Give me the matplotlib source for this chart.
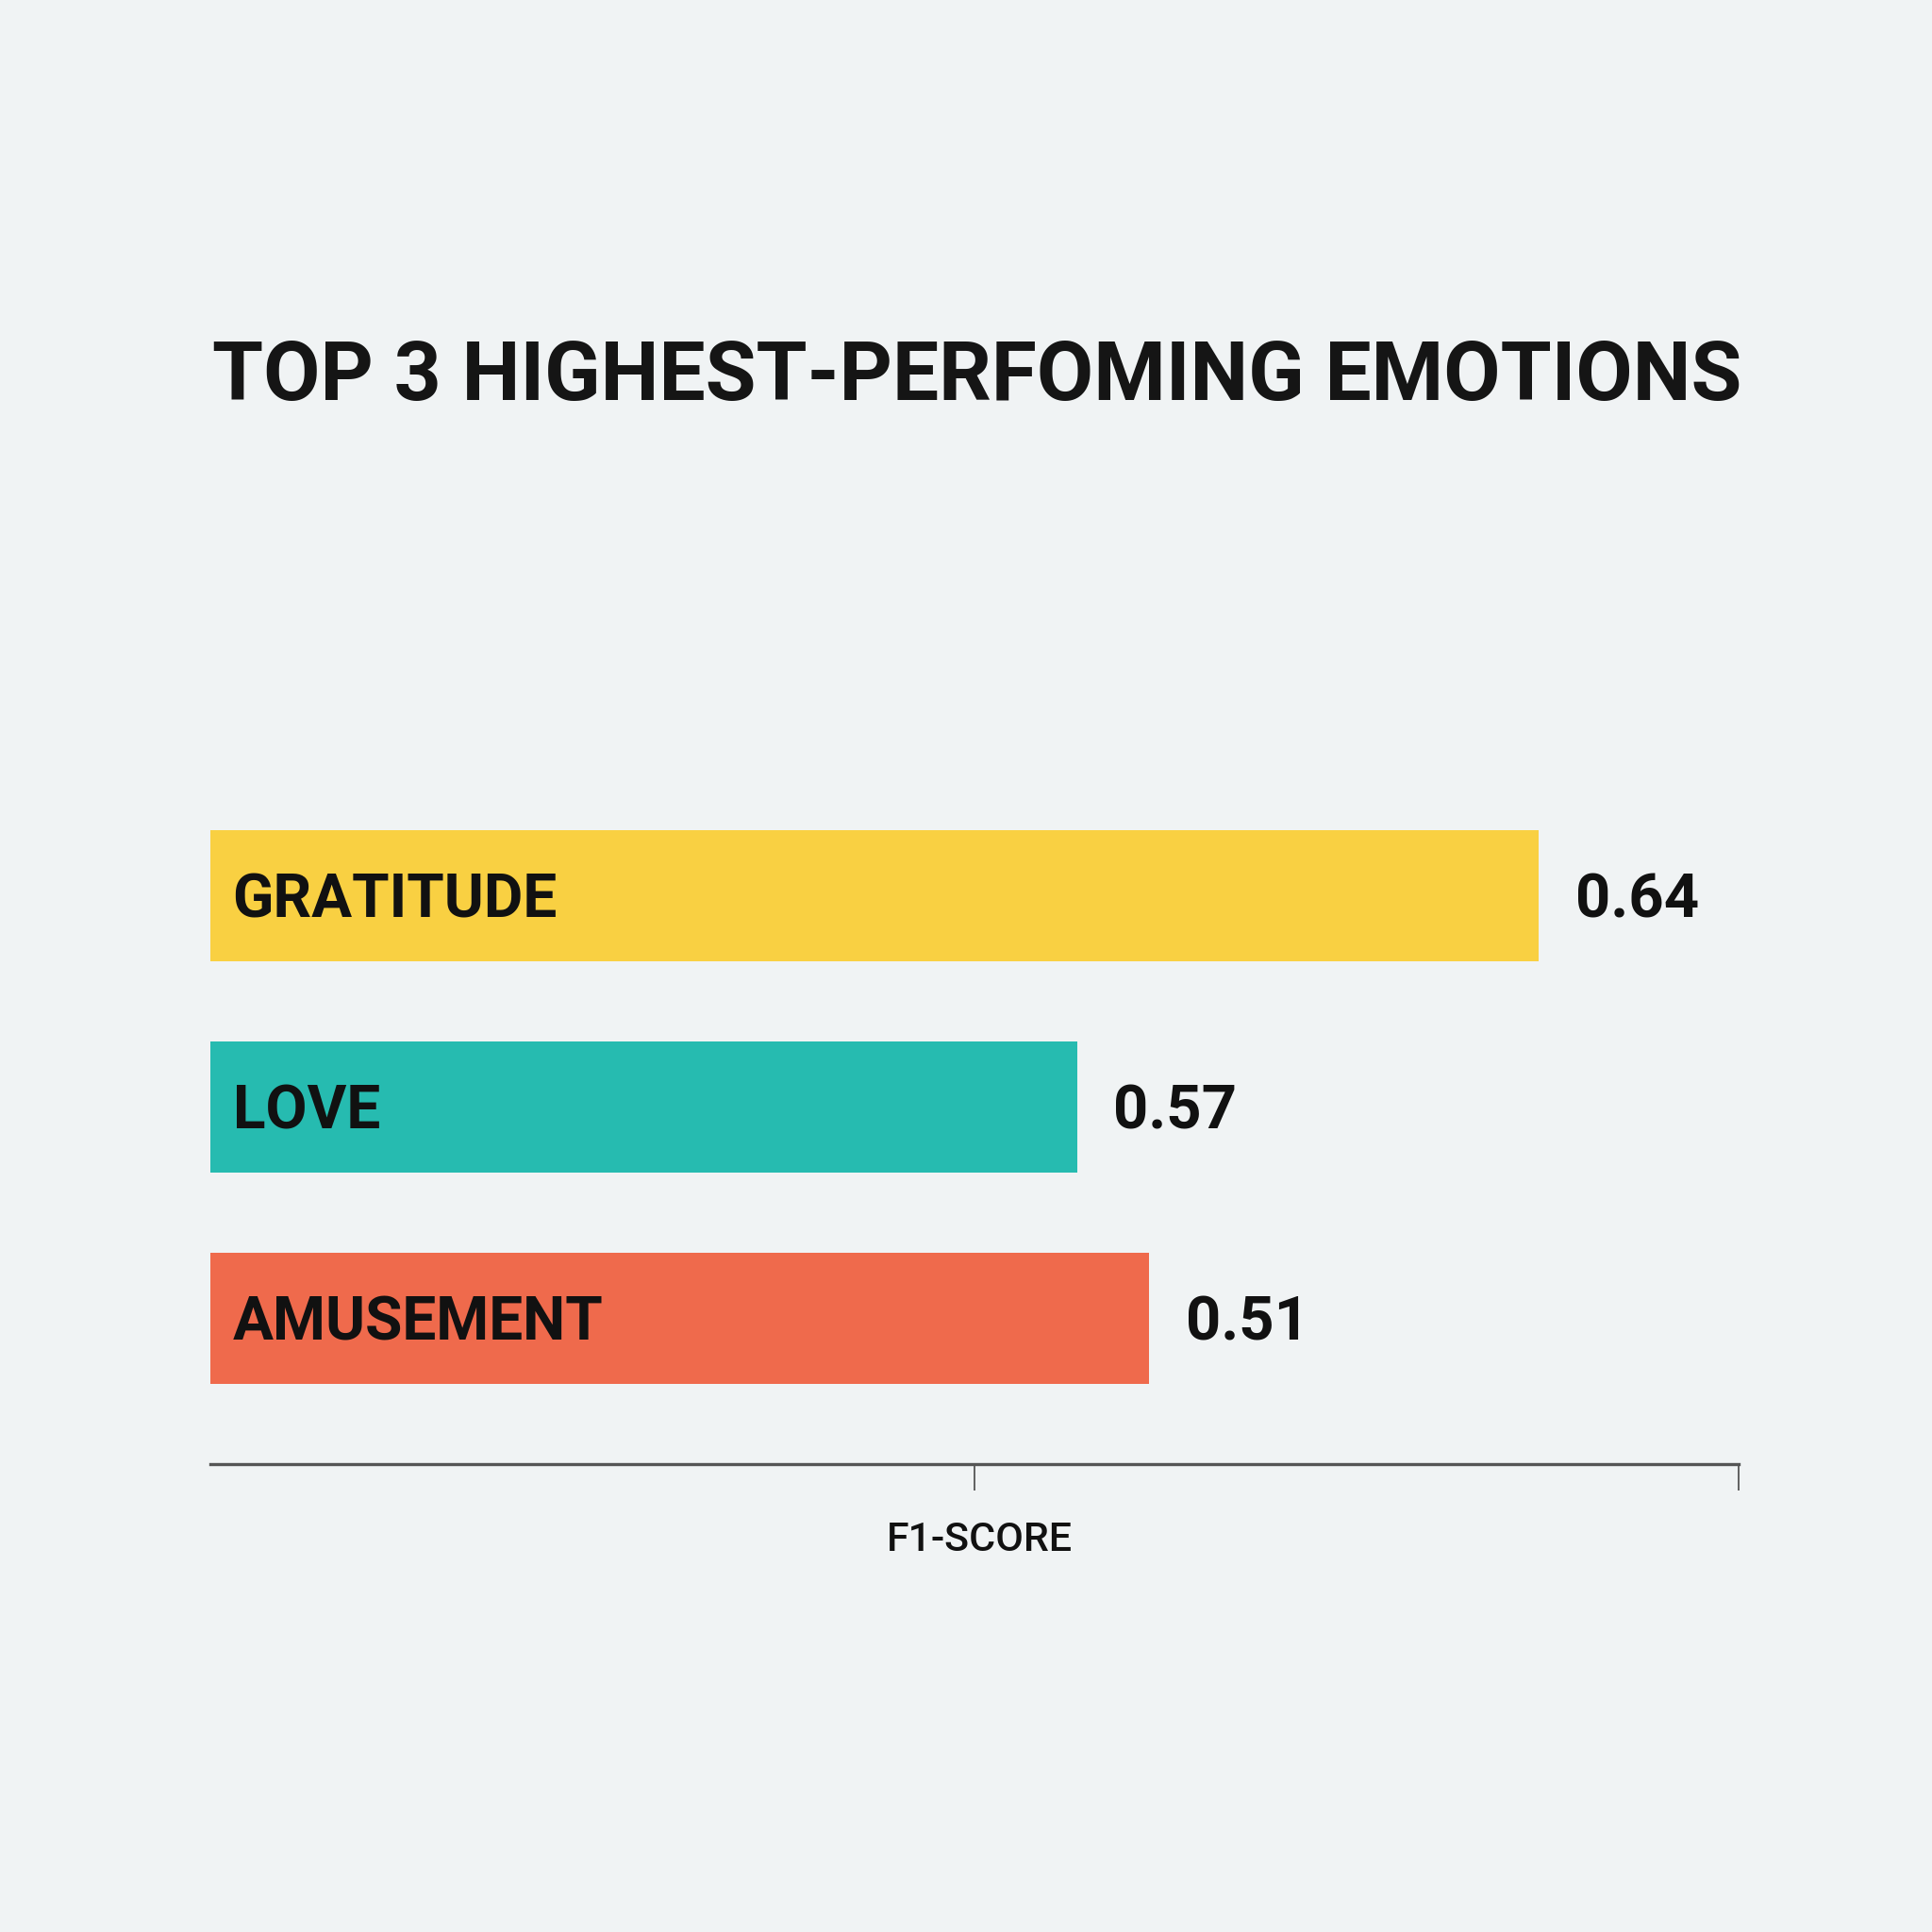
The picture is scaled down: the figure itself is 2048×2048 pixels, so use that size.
import matplotlib
matplotlib.use("Agg")
import matplotlib.pyplot as plt

# data
emotions = ["GRATITUDE", "LOVE", "AMUSEMENT"]
bar_lengths = [0.869, 0.567, 0.614]   # drawn bar lengths (axis runs 0..1)
score_labels = ["0.64", "0.57", "0.51"]
colors = ["#f9d042", "#26bbb0", "#ef6a4c"]

bg = "#f0f3f4"
plt.rcParams['font.family'] = ['Roboto', 'DejaVu Sans']

fig = plt.figure(figsize=(20.48, 20.48), dpi=100, facecolor=bg)
ax = fig.add_axes([223/2048, 1 - 1552/2048, (1843-223)/2048, (1552-880)/2048])
ax.set_facecolor(bg)

ypos = list(range(len(emotions)))
ax.barh(ypos, bar_lengths, height=0.62, color=colors)
ax.set_xlim(0, 1.0)
ax.set_ylim(2.69, -0.31)

for y, name, w, lab in zip(ypos, emotions, bar_lengths, score_labels):
    ax.annotate(name, (0, y), xytext=(17, -4), textcoords="offset points",
                ha="left", va="center", fontsize=46, fontweight="semibold", color="#111111")
    ax.annotate(lab, (w, y), xytext=(28, -4), textcoords="offset points",
                ha="left", va="center", fontsize=47, fontweight="bold", color="#111111")

for s in ["top", "right", "left"]:
    ax.spines[s].set_visible(False)
ax.spines["bottom"].set_color("#555555")
ax.spines["bottom"].set_linewidth(2.4)
ax.set_yticks([])
ax.set_xticks([0.5, 1.0])
ax.set_xticklabels([])
ax.tick_params(axis="x", length=20, width=1.3, color="#555555", direction="out")

fig.text(1038/2048, 1 - 1632/2048, "F1-SCORE", ha="center", va="center",
         fontsize=31, fontweight="medium", color="#111111")
fig.text(1036/2048, 1 - 400/2048, "TOP 3 HIGHEST-PERFOMING EMOTIONS", ha="center", va="center",
         fontsize=63, fontweight="bold", color="#151515")

fig.savefig("out.png", dpi=100, facecolor=bg)
